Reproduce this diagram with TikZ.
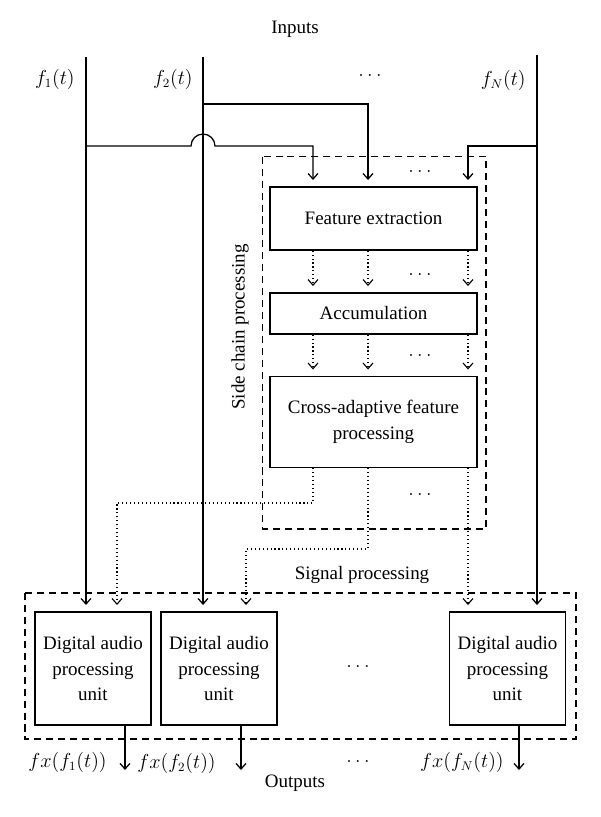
\documentclass[tikz,border=0pt]{standalone}
\usepackage{fontspec}
\setmainfont{Liberation Serif}
\usetikzlibrary{arrows.meta}

\begin{document}
\begin{tikzpicture}[x=0.025cm, y=-0.025cm, line width=0.9pt,
                    >={Straight Barb[length=4pt,width=7pt]},
                    font=\fontsize{13.5}{18}\selectfont,
                    main node/.style={draw,align=center,minimum width=5.175cm},
                    unit node/.style={draw,align=center,minimum width=2.9cm,
                                      minimum height=2.825cm,inner sep=1pt},
                    feed/.style={->,shorten >=4.5pt},
                    side/.style={->,dotted,line width=0.8pt,shorten >=4.5pt},
                    frame/.style={dash pattern=on 5pt off 3.5pt,line width=0.8pt}]

  \useasboundingbox (0,0) rectangle (600,817);

  % inputs
  \node (in) at (295,29) {Inputs};
  \node[anchor=east] (l1) at (80,79) {$f_1(t)$};
  \node[anchor=east] (l2) at (198,79) {$f_2(t)$};
  \node[anchor=east] (lN) at (531,80) {$f_N(t)$};
  \node (d0) at (370,76) {$\ldots$};
  \coordinate (i1) at (86,57);
  \coordinate (i2) at (203,57);
  \coordinate (iN) at (537,55);

  % side chain
  \node[main node,minimum height=1.575cm] (1) at (373.5,218.5) {Feature extraction};
  \node[main node,minimum height=1.025cm] (2) at (373.5,313.5) {Accumulation};
  \node[main node,minimum height=2.275cm] (3) at (373.5,422) {Cross-adaptive feature\\processing};
  \coordinate (sa) at (313,146);
  \coordinate (sb) at (368,104);
  \coordinate (sc) at (468,146);

  % processing units
  \node[unit node] (4) at (93,668.5) {Digital audio\\processing\\unit};
  \node[unit node] (5) at (219,668.5) {Digital audio\\processing\\unit};
  \node[unit node] (6) at (507.5,668.5) {Digital audio\\processing\\unit};

  \node (d1) at (420,172) {$\ldots$};
  \node (d2) at (420,275) {$\ldots$};
  \node (d3) at (420,356) {$\ldots$};
  \node (d4) at (420,495) {$\ldots$};
  \node (d5) at (358,667) {$\ldots$};
  \node (d6) at (358,762) {$\ldots$};

  \draw[frame] (262.7,156.7) rectangle (486,529);
  \draw[frame] (25,593) rectangle (576,739);
  \node[rotate=90] (lsc) at (240,327) {Side chain processing};
  \node (lsp) at (362,575) {Signal processing};

  % signals
  \draw[feed] (i1) -- (i1 |- 4.north);
  \draw[feed] (i2) -- (i2 |- 5.north);
  \draw[feed] (iN) -- (iN |- 6.north);
  \draw[feed] (i1 |- sa) -- ([xshift=-0.3cm]i2 |- sa)
    arc[start angle=180,end angle=0,radius=0.3cm] -- (sa) -- (sa |- 1.north);
  \draw[feed] (i2 |- sb) -- (sb) -- (sb |- 1.north);
  \draw[feed] (iN |- sc) -- (sc) -- (sc |- 1.north);

  \foreach \c in {sa,sb,sc} {
    \draw[side] (\c |- 1.south) -- (\c |- 2.north);
    \draw[side] (\c |- 2.south) -- (\c |- 3.north);
  }

  \coordinate (t1) at (117,503);
  \coordinate (t2) at (246,549);
  \draw[side] (sa |- 3.south) -- (sa |- t1) -- (t1) -- (t1 |- 4.north);
  \draw[side] (sb |- 3.south) -- (sb |- t2) -- (t2) -- (t2 |- 5.north);
  \draw[side] (sc |- 3.south) -- (sc |- 6.north);

  % outputs
  \coordinate (o1) at (125,770);
  \coordinate (o2) at (241,770);
  \coordinate (oN) at (519,770);
  \draw[->] (o1 |- 4.south) -- (o1);
  \draw[->] (o2 |- 5.south) -- (o2);
  \draw[->] (oN |- 6.south) -- (oN);
  \node[anchor=east] (y1) at (112,762) {$fx(f_1(t))$};
  \node[anchor=east] (y2) at (221,763) {$fx(f_2(t))$};
  \node[anchor=east] (yN) at (509,762) {$fx(f_N(t))$};
  \node (out) at (295,783) {Outputs};
\end{tikzpicture}
\end{document}
